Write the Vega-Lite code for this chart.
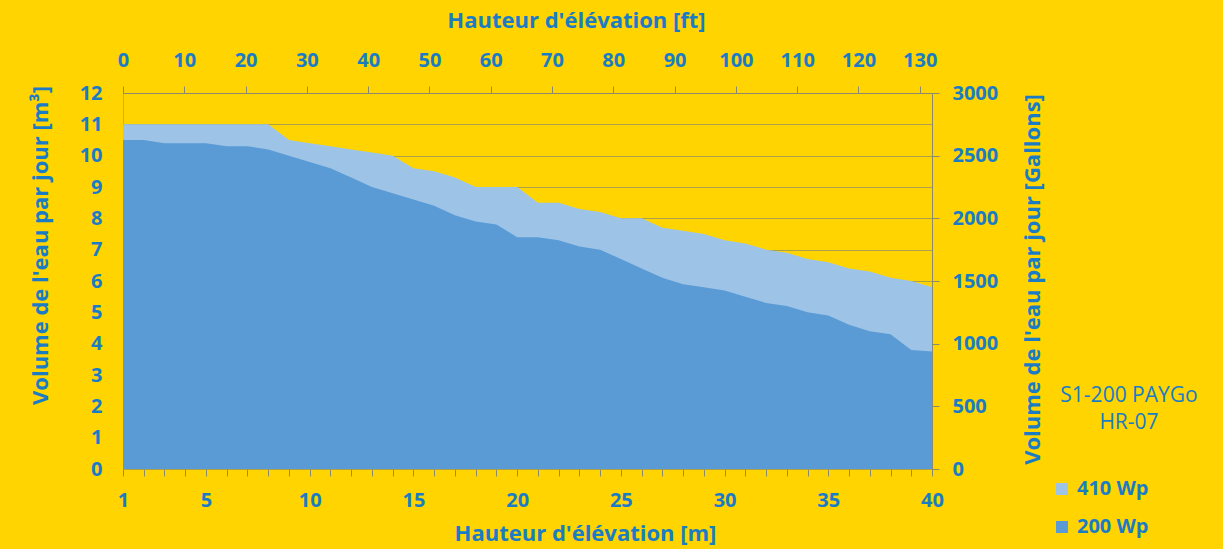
{
  "$schema": "https://vega.github.io/schema/vega-lite/v6.json",
  "autosize": {"type": "none"},
  "padding": {"left": 123, "top": 93, "right": 291, "bottom": 80},
  "width": 809,
  "height": 376,
  "background": "#FFD400",
  "title": {
    "text": ["S1-200 PAYGo", "HR-07"],
    "orient": "top",
    "frame": "group",
    "anchor": "end",
    "align": "center",
    "baseline": "top",
    "dx": 197,
    "dy": 428,
    "font": "Open Sans",
    "fontSize": 21,
    "fontWeight": "normal",
    "color": "#1a7cc4",
    "lineHeight": 27
  },
  "config": {
    "view": {"stroke": null},
    "font": "Open Sans",
    "axis": {
      "labelFont": "Open Sans",
      "labelFontSize": 20,
      "labelFontWeight": "bold",
      "labelColor": "#1a7cc4",
      "labelOverlap": false,
      "labelFlush": false,
      "labelBound": false,
      "titleFont": "Open Sans",
      "titleFontSize": 22,
      "titleFontWeight": "bold",
      "titleColor": "#1a7cc4",
      "domainColor": "#8a8a6a",
      "tickColor": "#8a8a6a",
      "gridColor": "#8a8a6a",
      "gridOpacity": 0.7,
      "domainWidth": 1,
      "tickWidth": 1
    }
  },
  "datasets": {
    "water": [
      {"m": 1, "v": 11.0, "s": "410 Wp"}, {"m": 2, "v": 11.0, "s": "410 Wp"}, {"m": 3, "v": 11.0, "s": "410 Wp"}, {"m": 4, "v": 11.0, "s": "410 Wp"},
      {"m": 5, "v": 11.0, "s": "410 Wp"}, {"m": 6, "v": 11.0, "s": "410 Wp"}, {"m": 7, "v": 11.0, "s": "410 Wp"}, {"m": 8, "v": 11.0, "s": "410 Wp"},
      {"m": 9, "v": 10.5, "s": "410 Wp"}, {"m": 10, "v": 10.4, "s": "410 Wp"}, {"m": 11, "v": 10.3, "s": "410 Wp"}, {"m": 12, "v": 10.2, "s": "410 Wp"},
      {"m": 13, "v": 10.1, "s": "410 Wp"}, {"m": 14, "v": 10.0, "s": "410 Wp"}, {"m": 15, "v": 9.6, "s": "410 Wp"}, {"m": 16, "v": 9.5, "s": "410 Wp"},
      {"m": 17, "v": 9.3, "s": "410 Wp"}, {"m": 18, "v": 9.0, "s": "410 Wp"}, {"m": 19, "v": 9.0, "s": "410 Wp"}, {"m": 20, "v": 9.0, "s": "410 Wp"},
      {"m": 21, "v": 8.5, "s": "410 Wp"}, {"m": 22, "v": 8.5, "s": "410 Wp"}, {"m": 23, "v": 8.3, "s": "410 Wp"}, {"m": 24, "v": 8.2, "s": "410 Wp"},
      {"m": 25, "v": 8.0, "s": "410 Wp"}, {"m": 26, "v": 8.0, "s": "410 Wp"}, {"m": 27, "v": 7.7, "s": "410 Wp"}, {"m": 28, "v": 7.6, "s": "410 Wp"},
      {"m": 29, "v": 7.5, "s": "410 Wp"}, {"m": 30, "v": 7.3, "s": "410 Wp"}, {"m": 31, "v": 7.2, "s": "410 Wp"}, {"m": 32, "v": 7.0, "s": "410 Wp"},
      {"m": 33, "v": 6.9, "s": "410 Wp"}, {"m": 34, "v": 6.7, "s": "410 Wp"}, {"m": 35, "v": 6.6, "s": "410 Wp"}, {"m": 36, "v": 6.4, "s": "410 Wp"},
      {"m": 37, "v": 6.3, "s": "410 Wp"}, {"m": 38, "v": 6.1, "s": "410 Wp"}, {"m": 39, "v": 6.0, "s": "410 Wp"}, {"m": 40, "v": 5.8, "s": "410 Wp"},
      {"m": 1, "v": 10.5, "s": "200 Wp"}, {"m": 2, "v": 10.5, "s": "200 Wp"}, {"m": 3, "v": 10.4, "s": "200 Wp"}, {"m": 4, "v": 10.4, "s": "200 Wp"},
      {"m": 5, "v": 10.4, "s": "200 Wp"}, {"m": 6, "v": 10.3, "s": "200 Wp"}, {"m": 7, "v": 10.3, "s": "200 Wp"}, {"m": 8, "v": 10.2, "s": "200 Wp"},
      {"m": 9, "v": 10.0, "s": "200 Wp"}, {"m": 10, "v": 9.8, "s": "200 Wp"}, {"m": 11, "v": 9.6, "s": "200 Wp"}, {"m": 12, "v": 9.3, "s": "200 Wp"},
      {"m": 13, "v": 9.0, "s": "200 Wp"}, {"m": 14, "v": 8.8, "s": "200 Wp"}, {"m": 15, "v": 8.6, "s": "200 Wp"}, {"m": 16, "v": 8.4, "s": "200 Wp"},
      {"m": 17, "v": 8.1, "s": "200 Wp"}, {"m": 18, "v": 7.9, "s": "200 Wp"}, {"m": 19, "v": 7.8, "s": "200 Wp"}, {"m": 20, "v": 7.4, "s": "200 Wp"},
      {"m": 21, "v": 7.4, "s": "200 Wp"}, {"m": 22, "v": 7.3, "s": "200 Wp"}, {"m": 23, "v": 7.1, "s": "200 Wp"}, {"m": 24, "v": 7.0, "s": "200 Wp"},
      {"m": 25, "v": 6.7, "s": "200 Wp"}, {"m": 26, "v": 6.4, "s": "200 Wp"}, {"m": 27, "v": 6.1, "s": "200 Wp"}, {"m": 28, "v": 5.9, "s": "200 Wp"},
      {"m": 29, "v": 5.8, "s": "200 Wp"}, {"m": 30, "v": 5.7, "s": "200 Wp"}, {"m": 31, "v": 5.5, "s": "200 Wp"}, {"m": 32, "v": 5.3, "s": "200 Wp"},
      {"m": 33, "v": 5.2, "s": "200 Wp"}, {"m": 34, "v": 5.0, "s": "200 Wp"}, {"m": 35, "v": 4.9, "s": "200 Wp"}, {"m": 36, "v": 4.6, "s": "200 Wp"},
      {"m": 37, "v": 4.4, "s": "200 Wp"}, {"m": 38, "v": 4.3, "s": "200 Wp"}, {"m": 39, "v": 3.8, "s": "200 Wp"}, {"m": 40, "v": 3.75, "s": "200 Wp"}
    ],
    "secondary": [
      {"ft": 0, "gal": 0},
      {"ft": 132, "gal": 3000}
    ]
  },
  "layer": [
    {
      "data": {"name": "water"},
      "encoding": {
        "x": {
          "field": "m", "type": "quantitative",
          "scale": {"domain": [1, 40], "nice": false, "zero": false},
          "axis": {
            "orient": "bottom",
            "title": "Hauteur d'élévation [m]",
            "values": [1,2,3,4,5,6,7,8,9,10,11,12,13,14,15,16,17,18,19,20,21,22,23,24,25,26,27,28,29,30,31,32,33,34,35,36,37,38,39,40],
            "labelExpr": "datum.value == 1 || datum.value % 5 == 0 ? datum.label : ''",
            "labelOverlap": false,
            "grid": false,
            "domain": false,
            "tickSize": 7,
            "labelPadding": 14,
            "titleX": 462,
            "titleY": 64,
            "titleAlign": "center",
            "titleBaseline": "middle"
          }
        },
        "y": {
          "field": "v", "type": "quantitative", "stack": null,
          "scale": {"domain": [0, 12], "nice": false},
          "axis": {
            "orient": "left",
            "title": "Volume de l'eau par jour [m³]",
            "values": [0,1,2,3,4,5,6,7,8,9,10,11,12],
            "labelOverlap": false,
            "grid": true,
            "zindex": 0,
            "ticks": false,
            "domainDash": [1, 1],
            "labelPadding": 21,
            "titleAngle": -90,
            "titleX": -83,
            "titleY": 152,
            "titleAlign": "center",
            "titleBaseline": "middle"
          }
        },
        "color": {
          "field": "s", "type": "nominal",
          "scale": {"domain": ["410 Wp", "200 Wp"], "range": ["#9DC3E6", "#5B9BD5"]},
          "legend": {
            "title": null,
            "orient": "none",
            "legendX": 929,
            "legendY": 386,
            "direction": "vertical",
            "symbolType": "square",
            "symbolSize": 144,
            "symbolStrokeWidth": 0,
            "labelFont": "Open Sans",
            "labelFontSize": 20,
            "labelFontWeight": "bold",
            "labelColor": "#1a7cc4",
            "labelOffset": 5,
            "rowPadding": 18
          }
        }
      },
      "layer": [
        {
          "transform": [{"filter": "datum.s == '410 Wp'"}],
          "mark": {"type": "area", "interpolate": "linear"}
        },
        {
          "transform": [{"filter": "datum.s == '200 Wp'"}],
          "mark": {"type": "area", "interpolate": "linear"}
        }
      ]
    },
    {
      "data": {"name": "secondary"},
      "mark": {"type": "point", "opacity": 0},
      "encoding": {
        "x": {
          "field": "ft", "type": "quantitative",
          "scale": {"domain": [0, 132], "nice": false, "zero": true},
          "axis": {
            "orient": "top",
            "title": "Hauteur d'élévation [ft]",
            "values": [0,10,20,30,40,50,60,70,80,90,100,110,120,130],
            "labelOverlap": false,
            "grid": false,
            "tickSize": 7,
            "labelPadding": 16,
            "titleX": 453,
            "titleY": -73,
            "titleAlign": "center",
            "titleBaseline": "middle"
          }
        },
        "y": {
          "field": "gal", "type": "quantitative",
          "scale": {"domain": [0, 3000], "nice": false},
          "axis": {
            "orient": "right",
            "title": "Volume de l'eau par jour  [Gallons]",
            "values": [0,500,1000,1500,2000,2500,3000],
            "format": "d",
            "labelOverlap": false,
            "grid": false,
            "tickSize": 7,
            "labelPadding": 13,
            "titleAngle": -90,
            "titleX": 100,
            "titleY": 186,
            "titleAlign": "center",
            "titleBaseline": "middle"
          }
        }
      }
    }
  ],
  "resolve": {"scale": {"x": "independent", "y": "independent"}}
}
